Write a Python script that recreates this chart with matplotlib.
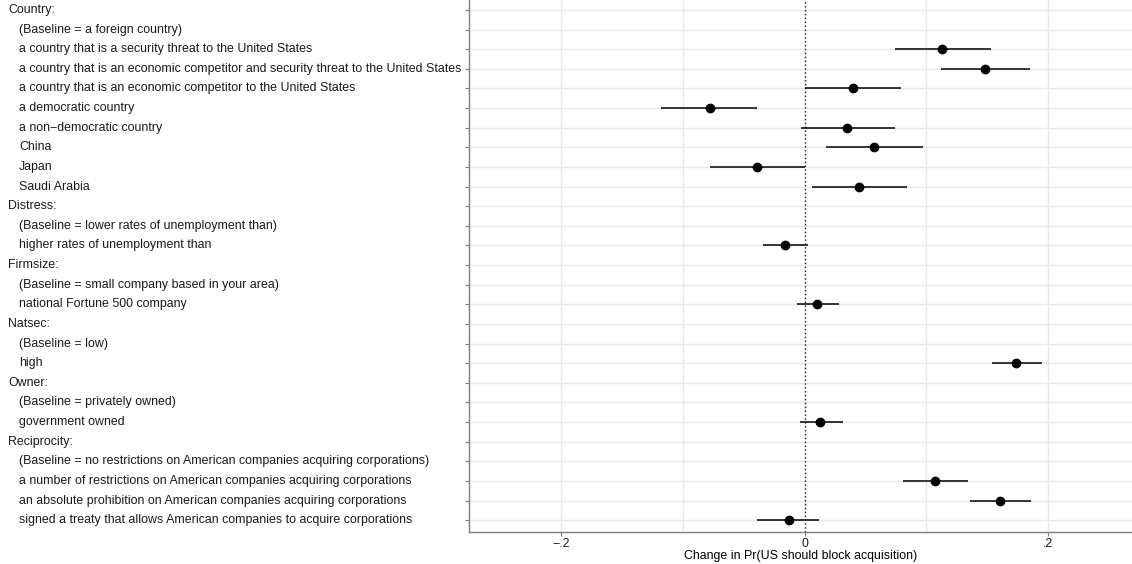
import numpy as np
import matplotlib
matplotlib.use("Agg")
import matplotlib.pyplot as plt
import matplotlib.transforms as mtransforms

plt.rcParams["font.family"] = ["Liberation Sans", "DejaVu Sans"]

# one row per line of the plot, top to bottom; headers end with ":"
labels = [
    "Country:",
    "(Baseline = a foreign country)",
    "a country that is a security threat to the United States",
    "a country that is an economic competitor and security threat to the United States",
    "a country that is an economic competitor to the United States",
    "a democratic country",
    "a non\u2212democratic country",
    "China",
    "Japan",
    "Saudi Arabia",
    "Distress:",
    "(Baseline = lower rates of unemployment than)",
    "higher rates of unemployment than",
    "Firmsize:",
    "(Baseline = small company based in your area)",
    "national Fortune 500 company",
    "Natsec:",
    "(Baseline = low)",
    "high",
    "Owner:",
    "(Baseline = privately owned)",
    "government owned",
    "Reciprocity:",
    "(Baseline = no restrictions on American companies acquiring corporations)",
    "a number of restrictions on American companies acquiring corporations",
    "an absolute prohibition on American companies acquiring corporations",
    "signed a treaty that allows American companies to acquire corporations",
]

nan = np.nan
estimate = [nan, nan, 0.113, 0.148, 0.040, -0.078, 0.035, 0.057, -0.039, 0.045,
            nan, nan, -0.016, nan, nan, 0.010, nan, nan, 0.174,
            nan, nan, 0.013, nan, nan, 0.107, 0.161, -0.013]
lower = [nan, nan, 0.074, 0.112, 0.000, -0.118, -0.003, 0.018, -0.078, 0.006,
         nan, nan, -0.034, nan, nan, -0.006, nan, nan, 0.154,
         nan, nan, -0.004, nan, nan, 0.081, 0.136, -0.039]
upper = [nan, nan, 0.153, 0.185, 0.079, -0.039, 0.074, 0.097, 0.000, 0.084,
         nan, nan, 0.003, nan, nan, 0.028, nan, nan, 0.195,
         nan, nan, 0.032, nan, nan, 0.134, 0.186, 0.012]

xticks = [-0.2, 0, 0.2]
xticklabels = ["\u2212.2", "0", ".2"]

FS = 8.9

fig = plt.figure(figsize=(11.32, 5.64), dpi=100)
ax = fig.add_axes([0.414, 0.0567, 0.587, 0.9465])

y = np.arange(1, len(labels) + 1)
est = np.array(estimate)
lo = np.array(lower)
hi = np.array(upper)

ax.hlines(y, lo, hi, color="black", lw=1.1, zorder=3)
ax.plot(est, y, "o", color="black", ms=6, zorder=4)
ax.axvline(0, color="#222222", lw=1.0, ls=(0, (1, 1.8)), zorder=2)

ax.set_xlim(-0.276, 0.27)
ax.set_ylim(len(labels) + 0.6, 0.4)

ax.set_xticks(xticks)
ax.set_xticklabels(xticklabels, fontsize=FS, color="#1a1a1a")
ax.set_xticks([-0.1, 0.1], minor=True)
ax.tick_params(axis="x", which="minor", length=0)
ax.set_yticks(y)
ax.set_yticklabels([])
ax.tick_params(axis="both", which="major", length=3, color="#7f7f7f", width=0.8, pad=1)

ax.grid(True, which="both", color="#e8e8e8", lw=1.0, zorder=0)
ax.set_axisbelow(True)
for side in ["top", "right"]:
    ax.spines[side].set_visible(False)
for side in ["left", "bottom"]:
    ax.spines[side].set_color("#7f7f7f")
    ax.spines[side].set_linewidth(1.0)

ax.set_xlabel("Change in Pr(US should block acquisition)", fontsize=FS, labelpad=0)

# labels sit left aligned in the margin, headers flush left, levels indented
trans = mtransforms.blended_transform_factory(fig.transFigure, ax.transData)
for yi, lab in zip(y, labels):
    indent = 0.007 if lab.endswith(":") else 0.017
    ax.text(indent, yi, lab, transform=trans, ha="left", va="center",
            fontsize=FS, color="#1a1a1a", clip_on=False)

fig.savefig("out.png", dpi=100)
